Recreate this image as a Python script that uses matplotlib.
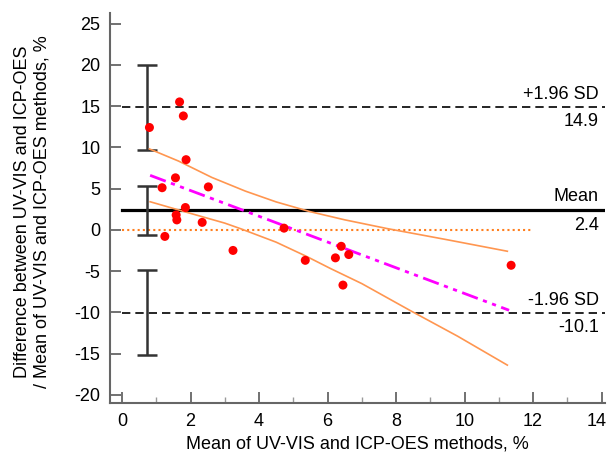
import matplotlib
matplotlib.use("Agg")
import matplotlib.pyplot as plt
import matplotlib.transforms as mtransforms
import numpy as np

plt.rcParams['font.family'] = ['Liberation Sans', 'DejaVu Sans']
plt.rcParams['axes.unicode_minus'] = False

# Bland-Altman data
meanValues = [0.80, 1.68, 1.79, 1.87, 1.56, 1.17, 2.52, 1.85, 1.58, 1.60,
              2.34, 1.25, 3.24, 4.73, 5.35, 6.23, 6.40, 6.62, 6.45, 11.36]
diffValues = [12.4, 15.5, 13.8, 8.5, 6.3, 5.1, 5.2, 2.7, 1.8, 1.2,
              0.9, -0.8, -2.5, 0.2, -3.7, -3.4, -2.0, -3.0, -6.7, -4.3]

MEAN_DIFF = 2.4
UPPER_LOA = 14.9
LOWER_LOA = -10.1

# confidence intervals of the mean and limits (low, high)
ciBars = [(9.7, 20.0), (-0.6, 5.3), (-15.2, -4.9)]
CI_X = 0.72

# regression line and its confidence band
regressionX = [0.82, 11.3]
regressionY = [6.6, -9.75]
upperBandX = [0.8, 1.65, 2.62, 3.6, 4.5, 5.5, 6.5, 7.74, 9.5, 11.25]
upperBandY = [9.8, 8.33, 6.35, 4.69, 3.38, 2.19, 1.21, 0.15, -1.21, -2.6]
lowerBandX = [0.82, 1.99, 3.0, 3.45, 4.5, 5.4, 6.08, 7.0, 8.42, 9.8, 11.25]
lowerBandY = [3.4, 2.0, 0.81, 0.15, -1.5, -3.25, -4.68, -6.52, -9.8, -12.9, -16.4]

fig = plt.figure(figsize=(6.08, 4.57), dpi=100)
ax = fig.add_axes([0.181, 0.118, 0.814, 0.854])

XMIN, XMAX = -0.35, 14.1
ax.set_xlim(XMIN, XMAX)
ax.set_ylim(-21, 26.3)

# reference lines
ax.plot([0, XMAX], [UPPER_LOA, UPPER_LOA], color="black", linestyle=(0, (5, 3)), linewidth=1.2)
ax.plot([0, XMAX], [LOWER_LOA, LOWER_LOA], color="black", linestyle=(0, (5, 3)), linewidth=1.2)
ax.plot([0, XMAX], [MEAN_DIFF, MEAN_DIFF], color="black", linewidth=2.3)
ax.plot([0, 12.0], [0, 0], color="#ff7f1e", linestyle=(0, (1, 1.5)), linewidth=1.5)

# CI error bars
for low, high in ciBars:
    ax.errorbar([CI_X], [(low + high) / 2], yerr=[[(high - low) / 2], [(high - low) / 2]],
                fmt="none", ecolor="#333333", elinewidth=1.8, capsize=7, capthick=1.8)

# regression and confidence band
ax.plot(upperBandX, upperBandY, color="#ff9650", linewidth=1.2)
ax.plot(lowerBandX, lowerBandY, color="#ff9650", linewidth=1.2)
ax.plot(regressionX, regressionY, color="#ff00ff", linewidth=2,
        linestyle=(0, (6, 2, 1.5, 2, 1.5, 2)))

ax.scatter(meanValues, diffValues, s=42, color="#ff0000", zorder=5, edgecolors="none")

# annotations at right
TX = 13.92
FS = 13
ax.text(TX, UPPER_LOA + 0.5, "+1.96 SD", ha="right", va="bottom", fontsize=FS)
ax.text(TX, UPPER_LOA - 0.7, "%.1f" % UPPER_LOA, ha="right", va="top", fontsize=FS)
ax.text(TX, MEAN_DIFF + 0.6, "Mean", ha="right", va="bottom", fontsize=FS)
ax.text(TX, MEAN_DIFF - 0.8, "%.1f" % MEAN_DIFF, ha="right", va="top", fontsize=FS)
ax.text(TX, LOWER_LOA + 0.5, "-1.96 SD", ha="right", va="bottom", fontsize=FS)
ax.text(TX, LOWER_LOA - 0.7, "%.1f" % LOWER_LOA, ha="right", va="top", fontsize=FS)

# axes styling
for side in ["top", "right"]:
    ax.spines[side].set_visible(False)
for side in ["left", "bottom"]:
    ax.spines[side].set_color("#666666")
    ax.spines[side].set_linewidth(1.5)

ax.set_xticks(np.arange(0, 15, 2))
ax.set_xticks(np.arange(1, 14, 2), minor=True)
ax.set_yticks(np.arange(-20, 26, 5))
ax.tick_params(axis="both", which="major", direction="in", length=8, width=1.3,
               color="#666666", labelsize=FS, pad=7)
ax.tick_params(axis="x", which="minor", direction="in", length=4, width=1, color="#999999")

# keep the last x label inside the figure
lastLabel = ax.get_xticklabels()[-1]
lastLabel.set_transform(lastLabel.get_transform() +
                        mtransforms.ScaledTranslation(-5 / 100, 0, fig.dpi_scale_trans))

ax.set_xlabel("Mean of UV-VIS and ICP-OES methods, %", fontsize=FS, labelpad=4)
ax.set_ylabel("Difference between UV-VIS and ICP-OES\n/ Mean of UV-VIS and ICP-OES methods, %",
              fontsize=FS)
ax.yaxis.set_label_coords(-0.12, 0.49)

fig.savefig("out.png", dpi=100)
